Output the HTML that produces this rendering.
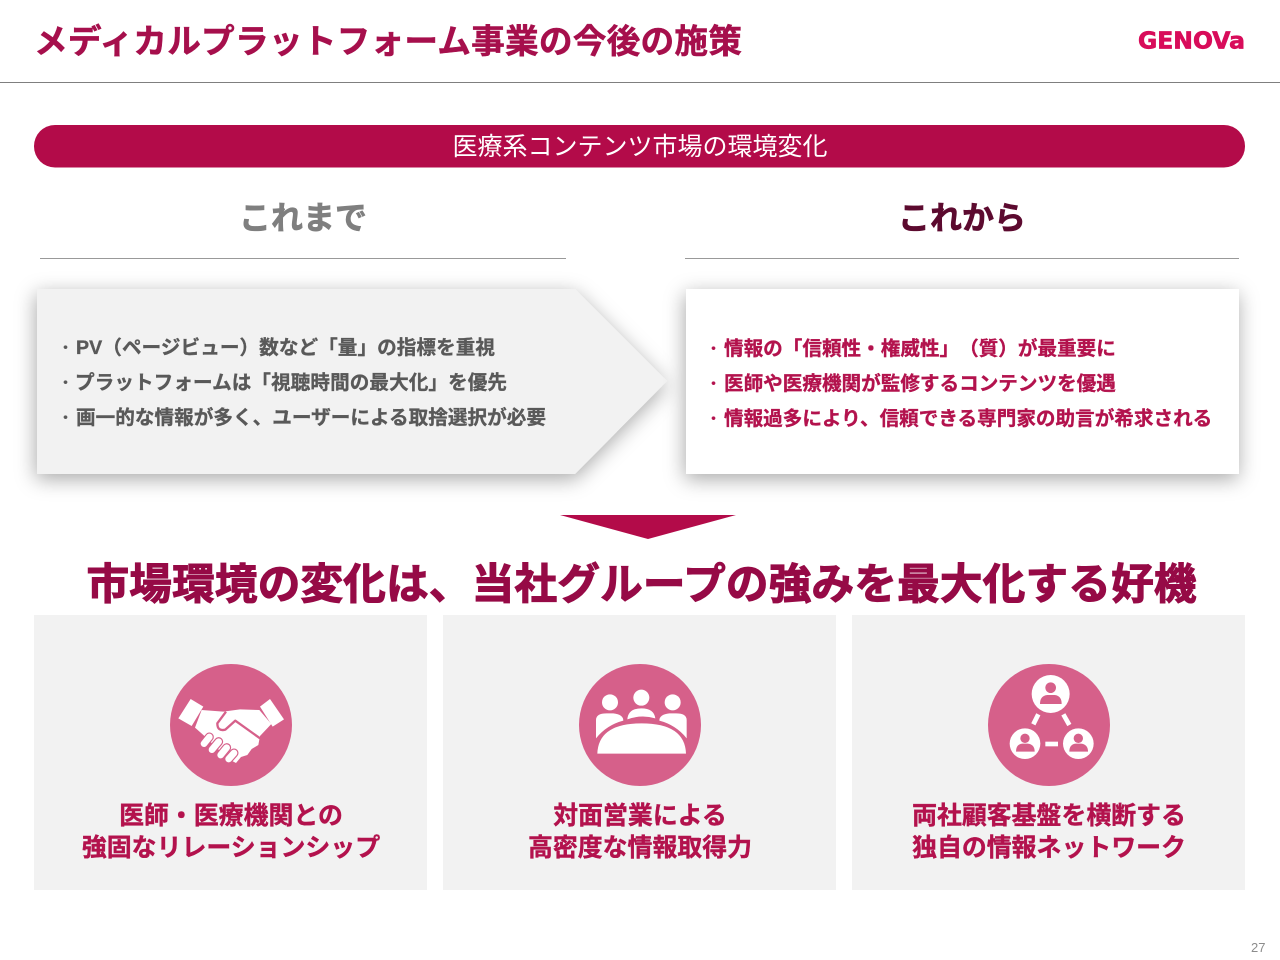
<!DOCTYPE html>
<html lang="ja"><head><meta charset="utf-8"><style>
html,body{margin:0;padding:0;background:#fff}
svg{display:block}
text{font-family:"Liberation Sans","Noto Sans CJK JP",sans-serif;font-weight:700;text-spacing-trim:space-all}
</style></head><body>
<svg width="1280" height="960" viewBox="0 0 1280 960" xmlns="http://www.w3.org/2000/svg">
<defs><filter id="s" x="-10%" y="-25%" width="120%" height="150%"><feDropShadow dx="-1" dy="5" stdDeviation="10" flood-color="#000" flood-opacity=".34"/></filter></defs>
<rect width="1280" height="960" fill="#fff"/>
<text x="34" y="53" font-size="33.7" fill="#a60f4c" stroke="#a60f4c" stroke-width=".5" textLength="708">メディカルプラットフォーム事業の今後の施策</text>
<text x="1138" y="48.500" font-size="23" fill="#d80c5a" stroke="#d80c5a" stroke-width=".7" textLength="107" lengthAdjust="spacingAndGlyphs" style="font-family:'DejaVu Sans',sans-serif">GENOVa</text>
<rect x="0" y="82" width="1280" height="1" fill="#7f7f7f"/>
<rect x="34" y="125" width="1211" height="42.500" rx="21" fill="#b30b49"/>
<text x="640" y="155" font-size="25" fill="#fff" text-anchor="middle" style="font-weight:400">医療系コンテンツ市場の環境変化</text>
<text x="303" y="229" font-size="32" fill="#7f7f7f" stroke="#7f7f7f" stroke-width=".7" text-anchor="middle">これまで</text>
<text x="962" y="229" font-size="32" fill="#5c0a2f" stroke="#5c0a2f" stroke-width=".7" text-anchor="middle">これから</text>
<rect x="40" y="258" width="526" height="1" fill="#999"/>
<rect x="685" y="258" width="554" height="1" fill="#999"/>
<polygon points="37,289 575,289 667,381 575,474 37,474" fill="#f2f2f2" filter="url(#s)"/>
<rect x="686" y="289" width="553" height="185" fill="#fff" filter="url(#s)"/>
<g font-size="19.600" fill="#595959" stroke="#595959" stroke-width=".35">
<text x="76" y="354" textLength="419">PV（ページビュー）数など「量」の指標を重視</text>
<text x="75" y="389" textLength="432">プラットフォームは「視聴時間の最大化」を優先</text>
<text x="76" y="424" textLength="470">画一的な情報が多く、ユーザーによる取捨選択が必要</text>
<text x="59" y="352" font-size="13">・</text><text x="59" y="387" font-size="13">・</text><text x="59" y="422" font-size="13">・</text>
</g>
<g font-size="19.600" fill="#b3124d" stroke="#b3124d" stroke-width=".35">
<text x="724" y="355">情報の「信頼性・権威性」（質）が最重要に</text>
<text x="724" y="390">医師や医療機関が監修するコンテンツを優遇</text>
<text x="724" y="425">情報過多により、信頼できる専門家の助言が希求される</text>
<text x="707" y="353" font-size="13">・</text><text x="707" y="388" font-size="13">・</text><text x="707" y="423" font-size="13">・</text>
</g>
<polygon points="560,515 736,515 648,539" fill="#b30b49"/>
<text x="86.500" y="599" font-size="42.600" fill="#960a46" stroke="#960a46" stroke-width="1.1" textLength="1110">市場環境の変化は、当社グループの強みを最大化する好機</text>
<rect x="34" y="615" width="393" height="275" fill="#f2f2f2"/>
<rect x="443" y="615" width="393" height="275" fill="#f2f2f2"/>
<rect x="852" y="615" width="393" height="275" fill="#f2f2f2"/>
<circle cx="231" cy="725" r="61" fill="#d6608a"/>
<circle cx="640" cy="725" r="61" fill="#d6608a"/>
<circle cx="1049" cy="725" r="61" fill="#d6608a"/>
<g transform="translate(160,655) scale(.33333)">
<polygon points="92,132 130,155 95,213 55,190" fill="#fff"/>
<polygon points="330,132 372,193 338,215 300,155" fill="#fff"/>
<path d="M125,165 L190,170 L240,163 L298,165 L334,207 L300,243 L295,270 L275,282 L262,300 L243,306 L228,324 L205,312 L130,240 L105,218 Z" fill="#fff"/>
<path d="M198,170 L172,205 Q172,230 196,224 L226,197 L300,250" fill="none" stroke="#d6608a" stroke-width="7" stroke-linejoin="round"/>
<g stroke="#d6608a" stroke-width="27" stroke-linecap="round"><path d="M132,266 L148,246"/><path d="M156,284 L176,260"/><path d="M182,300 L200,278"/><path d="M206,312 L222,294"/></g>
<g stroke="#fff" stroke-width="20" stroke-linecap="round"><path d="M132,266 L148,246"/><path d="M156,284 L176,260"/><path d="M182,300 L200,278"/><path d="M206,312 L222,294"/></g>
</g>
<g transform="translate(570,655) scale(.33333)" fill="#fff">
<circle cx="120" cy="142" r="24"/><circle cx="214" cy="128" r="24"/><circle cx="308" cy="142" r="24"/>
<path d="M82,296 Q85,205 215,205 Q345,205 348,296 Z"/>
<path d="M78,250 L78,195 Q78,175 110,175 L130,175 Q160,178 160,197 Q110,210 78,250 Z"/>
<path d="M172,193 Q175,160 214,160 Q252,160 256,190 Q214,178 172,193 Z"/>
<path d="M350,250 L350,195 Q350,175 318,175 L298,175 Q268,178 268,197 Q318,210 350,250 Z"/>
</g>
<g transform="translate(980,655) scale(.33333)">
<g fill="#fff"><circle cx="212" cy="117" r="57"/><circle cx="135" cy="266" r="46"/><circle cx="295" cy="266" r="46"/><rect x="196" y="260" width="38" height="14"/></g>
<g stroke="#fff" stroke-width="14"><path d="M160,208 L175,178"/><path d="M268,210 L250,178"/></g>
<g fill="#d6608a"><circle cx="212" cy="98" r="16"/><path d="M180,147 Q180,122 202,120 L224,120 Q245,122 245,147 Z"/>
<circle cx="135" cy="250" r="14"/><path d="M108,290 Q108,268 127,266 L143,266 Q164,268 164,290 Z"/>
<circle cx="295" cy="250" r="14"/><path d="M268,290 Q268,268 287,266 L303,266 Q324,268 324,290 Z"/></g>
</g>
<g font-size="24.900" fill="#b3124d" stroke="#b3124d" stroke-width=".4" text-anchor="middle">
<text x="231" y="824">医師・医療機関との</text>
<text x="231" y="856">強固なリレーションシップ</text>
<text x="640" y="824">対面営業による</text>
<text x="640" y="856">高密度な情報取得力</text>
<text x="1049" y="824">両社顧客基盤を横断する</text>
<text x="1049" y="856">独自の情報ネットワーク</text>
</g>
<text x="1251" y="952" font-size="13" fill="#8c8c8c" style="font-weight:400">27</text>
</svg>
</body></html>
